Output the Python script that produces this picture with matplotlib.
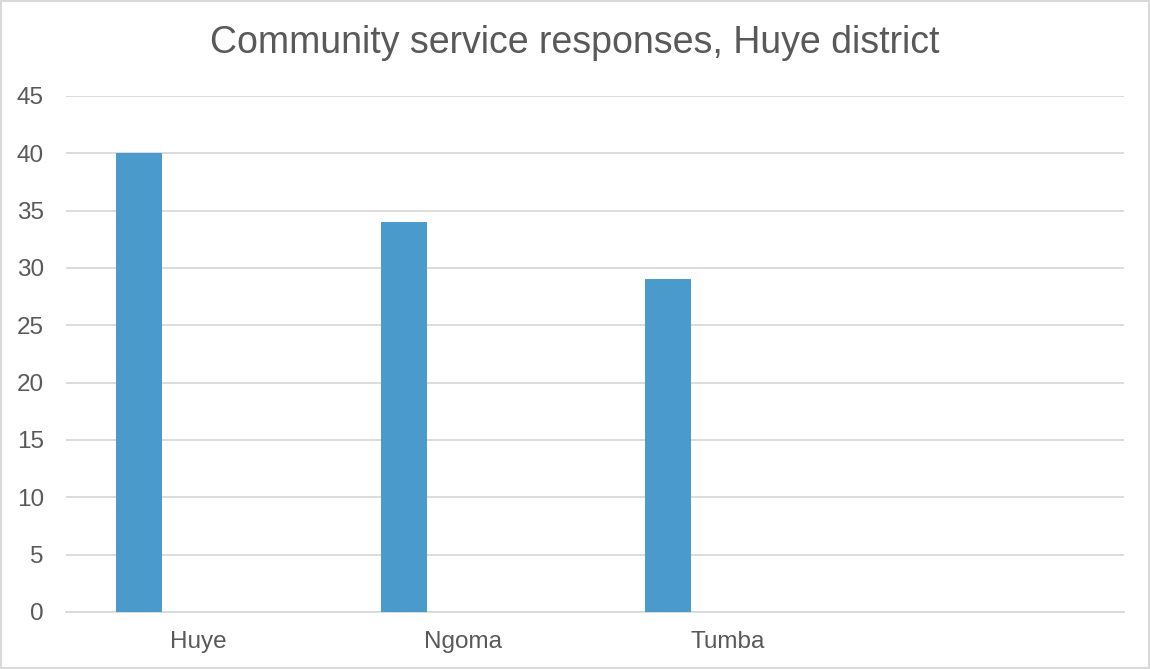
import numpy as np
import matplotlib
matplotlib.use("Agg")
import matplotlib.pyplot as plt
from matplotlib.patches import Rectangle

plt.rcParams['font.family'] = ['Liberation Sans', 'DejaVu Sans']

# chart data
title = "Community service responses, Huye district"
categories = ["Huye", "Ngoma", "Tumba", ""]
responses = [40, 34, 29]
yticks = list(range(0, 50, 5))

text_col = "#595959"
grid_col = "#d9d9d9"
bar_col = "#4a9bcb"

fig = plt.figure(figsize=(11.5, 6.69), dpi=100)
fig.patch.set_facecolor("white")
# thin light border round the chart area
fig.patches.append(Rectangle((0.001, 0.001), 0.998, 0.997, transform=fig.transFigure,
                             fill=False, edgecolor="#d9d9d9", linewidth=1.5))

ax = fig.add_axes([66 / 1150, 1 - 612 / 669, (1124 - 66) / 1150, (612 - 96) / 669])

x = np.arange(len(categories))
# first series of a clustered layout, sits left of the category centre
ax.bar(x[:len(responses)] - 0.223, responses, width=0.174, color=bar_col, zorder=3)

ax.set_xlim(-0.5, len(categories) - 0.5)
ax.set_ylim(0, 45)
ax.set_yticks(yticks)
ax.set_xticks(x)
ax.set_xticklabels(categories)
ax.yaxis.grid(True, color=grid_col, linewidth=1.3, zorder=0)
ax.set_axisbelow(True)
for s in ["top", "right", "left"]:
    ax.spines[s].set_visible(False)
ax.spines["bottom"].set_color(grid_col)
ax.spines["bottom"].set_linewidth(1.3)
ax.tick_params(axis="both", length=0, colors=text_col, labelsize=17.5)
ax.tick_params(axis="y", pad=16)
ax.tick_params(axis="x", pad=14)
for lab in ax.get_yticklabels():
    lab.set_horizontalalignment("right")

fig.text(0.5, 1 - 43 / 669, title, ha="center", va="center", fontsize=27, color=text_col)

fig.savefig("out.png", dpi=100)
